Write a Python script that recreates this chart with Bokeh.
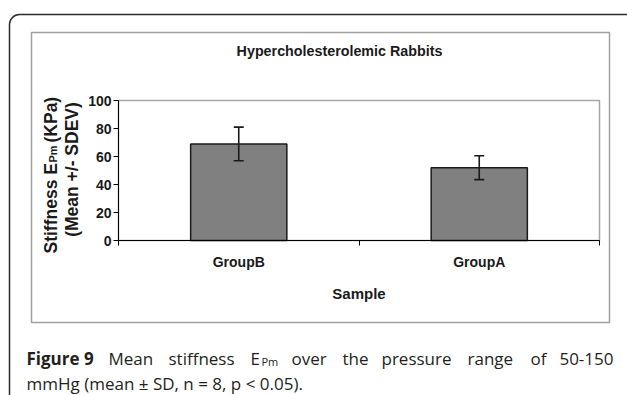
from math import pi
from bokeh.plotting import figure
from bokeh.models import (ColumnDataSource, Range1d, FixedTicker, Whisker, TeeHead,
                          Label, BoxAnnotation)
from bokeh.embed import file_html
from bokeh.resources import INLINE

# ---- data ----
categories = ["GroupB", "GroupA"]
means = [69, 52]
sdev = [12, 8.5]
y_ticks = [0, 20, 40, 60, 80, 100]
y_max = 100

title_text = "Hypercholesterolemic Rabbits"
x_title = "Sample"
y_title_1 = ["Stiffness E", "Pm", "(KPa)"]
y_title_2 = "(Mean +/- SDEV)"
caption_1 = [("Figure 9", "bold"), ("Mean", "normal"), ("stiffness", "normal"), ("E", "normal"),
             ("Pm", "sub"), ("over", "normal"), ("the", "normal"), ("pressure", "normal"),
             ("range", "normal"), ("of", "normal"), ("50-150", "normal")]
caption_2 = "mmHg (mean \u00b1 SD, n = 8, p < 0.05)."

# ---- layout (page pixels) ----
W, H = 627, 395
PL, PR, PT, PB = 118, 599, 100, 240   # plot area edges
n = len(categories)
xs = (PR - PL) / n
ys = (PB - PT) / y_max
x_range = Range1d(-PL / xs, n + (W - PR) / xs)
y_range = Range1d(-(H - PB) / ys, y_max + PT / ys)

xpos = [i + 0.5 for i in range(n)]
src = ColumnDataSource(dict(x=xpos, top=means,
                            upper=[m + s for m, s in zip(means, sdev)],
                            lower=[m - s for m, s in zip(means, sdev)]))

p = figure(width=W, height=H, output_backend="svg", toolbar_location=None, title=None,
           x_range=x_range, y_range=y_range, min_border=0)
p.background_fill_color = "white"
p.border_fill_color = "white"
p.outline_line_color = None
p.xgrid.visible = False
p.ygrid.visible = False

# plot-area border (grey, like the spreadsheet chart)
p.add_layout(BoxAnnotation(left=0, right=n, bottom=0, top=y_max, fill_alpha=0,
                           line_color="#a6a6a6", line_alpha=1, line_width=1.5,
                           level="underlay"))

p.vbar(x="x", top="top", bottom=0, width=0.4, source=src,
       fill_color="#808080", line_color="#1a1a1a", line_width=1.5)
p.add_layout(Whisker(source=src, base="x", upper="upper", lower="lower", level="annotation",
                     line_color="#1a1a1a", line_width=1.6,
                     upper_head=TeeHead(size=10, line_color="#1a1a1a", line_width=1.6),
                     lower_head=TeeHead(size=10, line_color="#1a1a1a", line_width=1.6)))

CH = "Liberation Sans"
# x axis
xa = p.xaxis[0]
xa.fixed_location = 0
xa.bounds = (0, n)
xa.ticker = FixedTicker(ticks=xpos, minor_ticks=list(range(n + 1)))
xa.major_label_overrides = {x: c for x, c in zip(xpos, categories)}
xa.major_tick_out = 0
xa.major_tick_in = 0
xa.minor_tick_out = 5
xa.minor_tick_in = 0
xa.minor_tick_line_color = "black"
xa.axis_line_color = "black"
xa.major_label_standoff = 8
xa.major_label_text_font = CH
xa.major_label_text_font_size = "14px"
xa.major_label_text_font_style = "bold"
xa.major_label_text_color = "#1a1a1a"
xa.axis_label = x_title
xa.axis_label_text_font = CH
xa.axis_label_text_font_size = "15px"
xa.axis_label_text_font_style = "bold"
xa.axis_label_text_color = "#1a1a1a"
xa.axis_label_standoff = 12

# y axis
ya = p.yaxis[0]
ya.fixed_location = 0
ya.bounds = (0, y_max)
ya.ticker = FixedTicker(ticks=y_ticks)
ya.major_tick_out = 5
ya.major_tick_in = 0
ya.minor_tick_out = 0
ya.minor_tick_in = 0
ya.axis_line_color = "black"
ya.major_label_standoff = 2
ya.major_label_text_font = CH
ya.major_label_text_font_size = "14px"
ya.major_label_text_font_style = "bold"
ya.major_label_text_color = "#1a1a1a"


def sx(px):
    return px


def sy(py):
    return H - py


def box(l, t, r, b, **kw):
    return BoxAnnotation(left=sx(l), right=sx(r), top=sy(t), bottom=sy(b),
                         left_units="screen", right_units="screen",
                         top_units="screen", bottom_units="screen",
                         fill_alpha=0, line_alpha=1, **kw)


# outer rounded box and inner chart box
p.add_layout(box(9, 14, 700, 470, line_color="#2b2b2b", line_width=1.5, border_radius=10,
                 level="overlay"))
p.add_layout(box(31, 32, 609, 322, line_color="#a0a0a0", line_width=1.5, level="overlay"))


def label(x, y, t, **kw):
    p.add_layout(Label(x=sx(x), y=sy(y), x_units="screen", y_units="screen", text=t, **kw))


# chart title
label(339, 50, title_text, text_font=CH, text_font_size="14.3px", text_font_style="bold",
      text_color="#1a1a1a", text_align="center", text_baseline="middle")

# y axis title (rotated, two lines)
yl_sizes = ["17.5px", "11px", "17.5px"]
yl_starts = [253, 162, 142]
yl_base = [50, 52, 50]
for t, fs, yy, xb in zip(y_title_1, yl_sizes, yl_starts, yl_base):
    label(xb, yy, t, angle=pi / 2, text_font=CH, text_font_size=fs, text_font_style="bold",
          text_color="#1a1a1a", text_align="left", text_baseline="alphabetic")
label(71, 169, y_title_2, angle=pi / 2, text_font=CH, text_font_size="17.5px",
      text_font_style="bold", text_color="#1a1a1a", text_align="center",
      text_baseline="alphabetic")

# caption (justified first line)
CF = "Open Sans"
cap_x = [26, 108, 168, 250, 261, 291, 342, 381, 467, 530, 613]
for (t, kind), x in zip(caption_1, cap_x):
    if kind == "sub":
        fs, yy, st = "11px", 361, "normal"
    else:
        fs, yy, st = "17px", 358, kind
    align = "right" if t == caption_1[-1][0] else "left"
    label(x, yy, t, text_font=CF, text_font_size=fs, text_font_style=st,
          text_color="#231f20", text_align=align, text_baseline="alphabetic")
label(26, 383, caption_2, text_font=CF, text_font_size="17px", text_color="#231f20",
      text_align="left", text_baseline="alphabetic")

open("out.html", "w").write(file_html(p, INLINE))
